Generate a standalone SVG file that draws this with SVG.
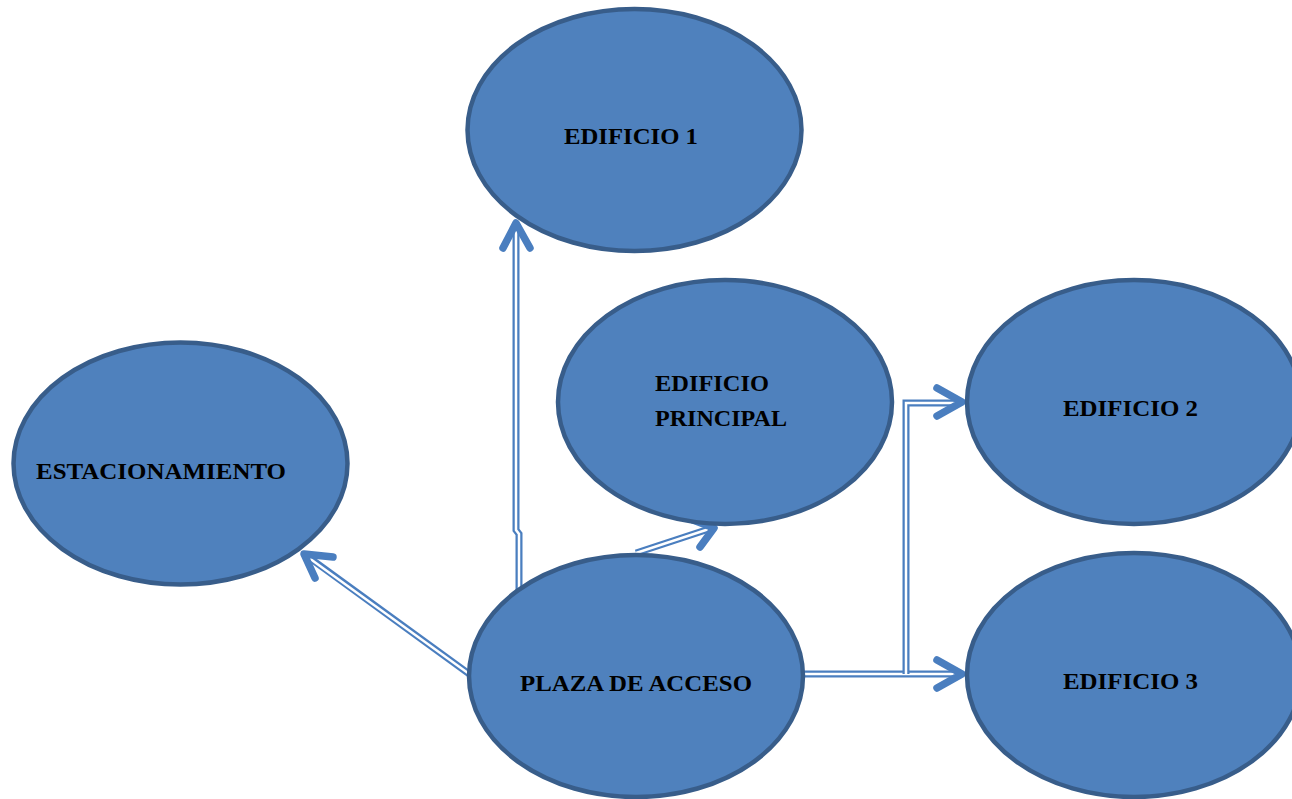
<svg xmlns="http://www.w3.org/2000/svg" width="1292" height="799" viewBox="0 0 1292 799">
<style>
.node{fill:#4f81bd;stroke:#385d8a;stroke-width:4.5}
.lbl{font-family:"Liberation Serif",serif;font-size:24px;font-weight:bold;fill:#000}
.outer{fill:none;stroke:#4a7ebf;stroke-width:7;stroke-linejoin:miter}
.inner{fill:none;stroke:#fff;stroke-width:2.5;stroke-linejoin:miter}
.head{fill:none;stroke:#4a7ebf;stroke-width:7.5;stroke-linecap:round;stroke-linejoin:round}
</style>
<rect width="1292" height="799" fill="#fff"/>
<g id="connectors">
<path class="outer" d="M519,592 L519,534 L516,530 L516,226"/>
<path class="inner" d="M519,592 L519,534 L516,530 L516,226"/>
<polyline class="head" points="503,248 516,223 530,248"/>
<path class="outer" d="M636,553 L712,528"/>
<path class="inner" d="M636,553 L709,529"/>
<polyline class="head" points="700,547 714,528 693,520"/>
<path class="outer" d="M472,676 L307,556"/>
<path class="inner" d="M472,676 L309,558"/>
<polyline class="head" points="333,557 304,554 315,578"/>
<path class="outer" d="M804,674 L960,674"/>
<path class="inner" d="M804,674 L958,674"/>
<polyline class="head" points="937,660 962,674 937,688"/>
<path class="outer" d="M906,674 L906,403 L960,403"/>
<path class="inner" d="M906,674 L906,403 L958,403"/>
<polyline class="head" points="937,388 962,402 937,416"/>
</g>
<g id="edificio1">
<ellipse class="node" cx="634.5" cy="130" rx="167" ry="121"/>
<text class="lbl" x="564" y="144" textLength="134" lengthAdjust="spacingAndGlyphs">EDIFICIO 1</text>
</g>
<g id="edificio-principal">
<ellipse class="node" cx="725" cy="402" rx="167" ry="122"/>
<text class="lbl" x="655" y="391" textLength="114" lengthAdjust="spacingAndGlyphs">EDIFICIO</text>
<text class="lbl" x="655" y="426" textLength="132" lengthAdjust="spacingAndGlyphs">PRINCIPAL</text>
</g>
<g id="estacionamiento">
<ellipse class="node" cx="180.5" cy="463.5" rx="167" ry="121"/>
<text class="lbl" x="36" y="479" textLength="250" lengthAdjust="spacingAndGlyphs">ESTACIONAMIENTO</text>
</g>
<g id="edificio2">
<ellipse class="node" cx="1134" cy="402" rx="167" ry="122"/>
<text class="lbl" x="1063" y="416" textLength="135" lengthAdjust="spacingAndGlyphs">EDIFICIO 2</text>
</g>
<g id="edificio3">
<ellipse class="node" cx="1134" cy="675" rx="167" ry="122"/>
<text class="lbl" x="1063" y="689" textLength="135" lengthAdjust="spacingAndGlyphs">EDIFICIO 3</text>
</g>
<g id="plaza-de-acceso">
<ellipse class="node" cx="636" cy="676" rx="167" ry="121"/>
<text class="lbl" x="520" y="691" textLength="232" lengthAdjust="spacingAndGlyphs">PLAZA DE ACCESO</text>
</g>
</svg>
